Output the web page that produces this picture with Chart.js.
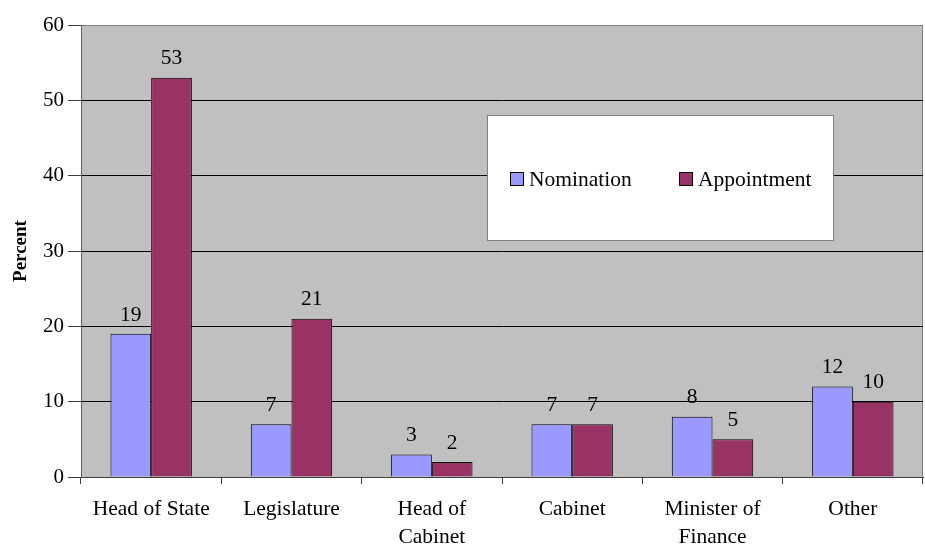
<!DOCTYPE html>
<html>
<head>
<meta charset="utf-8">
<script src="https://cdn.jsdelivr.net/npm/chart.js@4/dist/chart.umd.min.js"></script>
<style>
  html, body { margin: 0; padding: 0; background: #fff; }
  #wrap { width: 925px; height: 545px; }
</style>
</head>
<body>
<div id="wrap"><canvas id="bar-chart"></canvas></div>
<script>
// data
var categories = [["Head of State"], ["Legislature"], ["Head of", "Cabinet"], ["Cabinet"], ["Minister of", "Finance"], ["Other"]];
var nomination = [19, 7, 3, 7, 8, 12];
var appointment = [53, 21, 2, 7, 5, 10];
var yTicks = [0, 10, 20, 30, 40, 50, 60];

var serif = "'Liberation Serif', 'Times New Roman', serif";

// grey plot background with a thin grey frame
var plotBg = {
  id: 'plotBg',
  beforeDraw: function (chart) {
    var a = chart.chartArea, c = chart.ctx;
    c.save();
    c.fillStyle = '#c0c0c0';
    c.fillRect(a.left, a.top, a.right - a.left, a.bottom - a.top);
    c.strokeStyle = '#808080';
    c.lineWidth = 1;
    c.strokeRect(a.left + 0.5, a.top + 0.5, a.right - a.left - 1, a.bottom - a.top);
    c.restore();
  }
};

// value labels above each bar
var valueLabels = {
  id: 'valueLabels',
  afterDatasetsDraw: function (chart) {
    var c = chart.ctx;
    c.save();
    c.font = '21.5px ' + serif;
    c.fillStyle = '#000';
    c.textAlign = 'center';
    c.textBaseline = 'middle';
    chart.data.datasets.forEach(function (ds, i) {
      chart.getDatasetMeta(i).data.forEach(function (bar, j) {
        c.fillText(ds.data[j], bar.x, bar.y - 19);
      });
    });
    c.restore();
  }
};

// boxed legend inside the plot
var boxLegend = {
  id: 'boxLegend',
  afterDraw: function (chart) {
    var c = chart.ctx;
    c.save();
    c.fillStyle = '#fff';
    c.fillRect(487, 115, 347, 126);
    c.strokeStyle = '#808080';
    c.lineWidth = 1;
    c.strokeRect(487.5, 115.5, 346, 125);
    c.font = '21.5px ' + serif;
    c.textBaseline = 'middle';
    var xs = [510, 679];
    chart.data.datasets.forEach(function (ds, i) {
      c.fillStyle = ds.backgroundColor;
      c.fillRect(xs[i], 172, 14, 14);
      c.strokeStyle = '#000';
      c.strokeRect(xs[i] + 0.5, 172.5, 13, 13);
      c.fillStyle = '#000';
      c.fillText(ds.label, xs[i] + 19, 180);
    });
    c.restore();
  }
};

var chartGraph = new Chart(document.getElementById('bar-chart'), {
  type: 'bar',
  data: {
    labels: categories,
    datasets: [
      {
        label: 'Nomination',
        data: nomination,
        backgroundColor: '#9999ff',
        borderColor: '#000',
        borderWidth: 1,
        borderSkipped: 'bottom',
        categoryPercentage: 0.58,
        barPercentage: 1
      },
      {
        label: 'Appointment',
        data: appointment,
        backgroundColor: '#993366',
        borderColor: '#000',
        borderWidth: 1,
        borderSkipped: 'bottom',
        categoryPercentage: 0.58,
        barPercentage: 1
      }
    ]
  },
  options: {
    responsive: true,
    maintainAspectRatio: false,
    animation: false,
    layout: { padding: { top: 25, right: 2, left: 0, bottom: 0 } },
    plugins: {
      legend: { display: false },
      tooltip: { enabled: false }
    },
    scales: {
      x: {
        afterFit: function (s) { s.height = 68; },
        grid: {
          offset: true,
          drawOnChartArea: false,
          tickLength: 7,
          color: '#404040'
        },
        border: { color: '#404040' },
        ticks: {
          color: '#000',
          font: { family: serif, size: 21.5, lineHeight: 1.3 },
          padding: 11,
          maxRotation: 0
        }
      },
      y: {
        min: 0,
        max: 60,
        afterFit: function (s) { s.width = 81; },
        afterBuildTicks: function (s) { s.ticks = yTicks.map(function (v) { return { value: v }; }); },
        grid: {
          color: function (ctx) { return ctx.tick && ctx.tick.value === 60 ? '#808080' : '#000'; },
          tickColor: '#404040',
          tickLength: 13
        },
        border: { color: '#606060' },
        ticks: {
          color: '#000',
          font: { family: serif, size: 21 },
          padding: 4
        },
        title: {
          display: true,
          text: 'Percent',
          color: '#000',
          font: { family: serif, size: 19, weight: 'bold' },
          padding: { top: 10, bottom: 4 }
        }
      }
    }
  },
  plugins: [plotBg, valueLabels, boxLegend]
});
</script>
</body>
</html>
